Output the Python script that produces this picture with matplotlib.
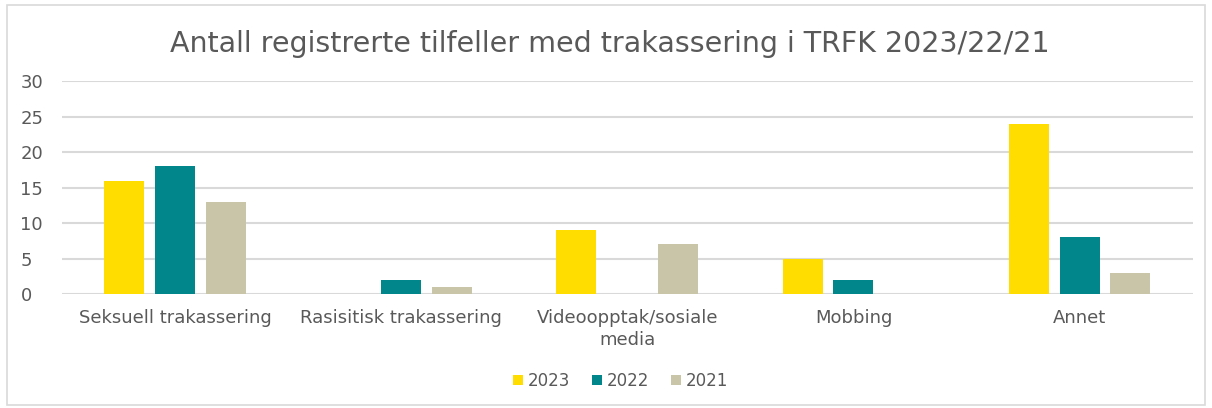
import matplotlib.pyplot as plt
import numpy as np
from matplotlib.patches import Rectangle

categories = ['Seksuell trakassering', 'Rasisitisk trakassering',
              'Videoopptak/sosiale\nmedia', 'Mobbing', 'Annet']
years = ['2023', '2022', '2021']
values_2023 = [16, 0, 9, 5, 24]
values_2022 = [18, 2, 0, 2, 8]
values_2021 = [13, 1, 7, 0, 3]

COLORS = ['#FFDD00', '#00868B', '#C9C5A8']
TEXT = '#595959'

plt.rcParams['font.family'] = ['DejaVu Sans']

fig = plt.figure(figsize=(12.12, 4.08), dpi=100)
fig.patches.append(Rectangle((0.006, 0.008), 0.988, 0.98, transform=fig.transFigure,
                             fill=False, edgecolor='#d9d9d9', linewidth=1.2))
ax = fig.add_axes([0.0512, 0.279, 0.9328, 0.522])

x = np.arange(len(categories))
width = 0.177
step = 0.225
for i, (vals, label) in enumerate(zip([values_2023, values_2022, values_2021], years)):
    ax.bar(x + (i - 1) * step, vals, width, color=COLORS[i], label=label, zorder=3)

ax.set_xlim(-0.5, len(categories) - 0.5)
ax.set_ylim(0, 30)
ax.set_yticks(range(0, 31, 5))
ax.yaxis.grid(True, color='#d9d9d9', linewidth=1.5, zorder=0)
ax.set_axisbelow(True)
for s in ax.spines.values():
    s.set_visible(False)
ax.tick_params(length=0, labelsize=13, colors=TEXT)
ax.tick_params(axis='y', pad=30)
ax.tick_params(axis='x', pad=11)
ax.set_xticks(x)
ax.set_xticklabels(categories, linespacing=1.25)
for t in ax.get_yticklabels():
    t.set_horizontalalignment('left')

fig.text(0.503, 0.893, 'Antall registrerte tilfeller med trakassering i TRFK 2023/22/21',
         ha='center', va='center', fontsize=20.5, color=TEXT)

leg = fig.legend(loc='center', bbox_to_anchor=(0.512, 0.066), ncol=3, frameon=False,
                 fontsize=12, handlelength=0.6, handleheight=0.6, handletextpad=0.3,
                 columnspacing=1.3, labelcolor=TEXT)

fig.savefig('out.png', dpi=100)
